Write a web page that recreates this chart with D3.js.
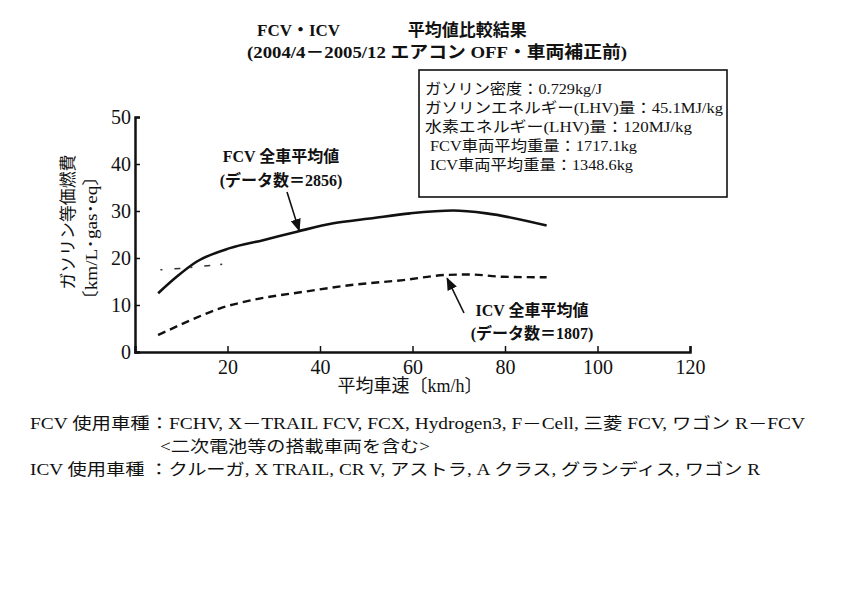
<!DOCTYPE html>
<html>
<head>
<meta charset="utf-8">
<script src="https://cdn.jsdelivr.net/npm/d3@7"></script>
<style>
  body { margin: 0; background: #fff; }
  text { font-family: "Liberation Serif", "Noto Sans CJK JP", serif; fill: #111; }
</style>
</head>
<body>
<div id="chart"></div>
<script>
// 平均車速 [km/h] と ガソリン等価燃費 [km/L]
const speedFCV = [5, 9, 13.3, 20.5, 27.7, 35, 42.9, 50.8, 59.5, 68.8, 76, 89];
const fuelFCV  = [12.5, 16.0, 19.2, 22.1, 23.8, 25.6, 27.4, 28.4, 29.5, 30.1, 29.5, 26.9];
const speedICV = [5, 11.2, 18.4, 25.6, 36.4, 47.2, 58, 67.4, 72.4, 79.6, 89];
const fuelICV  = [3.6, 6.4, 9.3, 11.1, 12.8, 14.3, 15.3, 16.4, 16.5, 16.0, 15.9];
// 原図に残っている短い点線
const speedStray = [5.5, 10, 15, 20];
const fuelStray  = [17.5, 17.8, 18.3, 18.8];

const xTicks = [20, 40, 60, 80, 100, 120];
const yTicks = [0, 10, 20, 30, 40, 50];

const titleLines = ["FCV・ICV　　　　平均値比較結果", "(2004/4－2005/12 エアコン OFF・車両補正前)"];
const infoLines = [
  "ガソリン密度：0.729kg/J",
  "ガソリンエネルギー(LHV)量：45.1MJ/kg",
  "水素エネルギー(LHV)量：120MJ/kg",
  "FCV車両平均重量：1717.1kg",
  "ICV車両平均重量：1348.6kg"
];
const yLabel = ["ガソリン等価燃費", "〔km/L･gas･eq〕"];
const xLabel = "平均車速〔km/h〕";
const fcvNote = ["FCV 全車平均値", "(データ数＝2856)"];
const icvNote = ["ICV 全車平均値", "(データ数＝1807)"];
const footLines = [
  "FCV 使用車種：FCHV, X－TRAIL FCV, FCX, Hydrogen3, F－Cell, 三菱 FCV, ワゴン R－FCV",
  "<二次電池等の搭載車両を含む>",
  "ICV 使用車種 ：クルーガ, X TRAIL, CR V, アストラ, A クラス, グランディス, ワゴン R"
];

const W = 861, H = 613;
const svg = d3.select("#chart").append("svg")
  .attr("width", W).attr("height", H);

svg.append("defs").append("marker")
  .attr("id", "arrow")
  .attr("viewBox", "0 0 10 10")
  .attr("refX", 9).attr("refY", 5)
  .attr("markerWidth", 8).attr("markerHeight", 8)
  .attr("orient", "auto")
  .append("path")
  .attr("d", "M0,1 L10,5 L0,9 Z")
  .attr("fill", "#111");

const x = d3.scaleLinear().domain([0, 120]).range([135, 690]);
const y = d3.scaleLinear().domain([0, 50]).range([352, 117]);

// タイトル
svg.append("text").attr("x", 257).attr("y", 36)
  .style("font-size", "17px").style("font-weight", "bold")
  .text(titleLines[0]);
svg.append("text").attr("x", 247).attr("y", 58)
  .attr("textLength", 380).attr("lengthAdjust", "spacingAndGlyphs")
  .style("font-size", "17px").style("font-weight", "bold")
  .text(titleLines[1]);

// 軸
const xAxis = d3.axisBottom(x).tickValues(xTicks).tickSize(-6).tickPadding(8);
const gx = svg.append("g").attr("transform", `translate(0,${y(0)})`).call(xAxis);
gx.select(".domain").attr("stroke", "#111").attr("stroke-width", 2.5);
gx.selectAll(".tick line").attr("stroke", "#111").attr("stroke-width", 1.5);
gx.selectAll(".tick text").style("font-size", "20px").style("font-family", "Liberation Serif").attr("fill", "#111");

const yAxis = d3.axisLeft(y).tickValues(yTicks).tickSize(-5).tickPadding(4);
const gy = svg.append("g").attr("transform", `translate(${x(0)},0)`).call(yAxis);
gy.select(".domain").attr("stroke", "#111").attr("stroke-width", 2.5);
gy.selectAll(".tick line").attr("stroke", "#111").attr("stroke-width", 1.5);
gy.selectAll(".tick text").style("font-size", "20px").style("font-family", "Liberation Serif").attr("fill", "#111");

// 軸ラベル
svg.append("text").attr("x", 410).attr("y", 392)
  .attr("text-anchor", "middle").style("font-size", "18px")
  .text(xLabel);
const yLabLen = [135, 143];
yLabel.forEach((t, i) => {
  svg.append("text")
    .attr("transform", `translate(${74 + i * 23},${222 + i * 16}) rotate(-90)`)
    .attr("text-anchor", "middle").style("font-size", "17px")
    .attr("textLength", yLabLen[i]).attr("lengthAdjust", "spacingAndGlyphs")
    .text(t);
});

// 線
const line = d3.line().x(d => x(d[0])).y(d => y(d[1])).curve(d3.curveMonotoneX);

svg.append("path")
  .datum(d3.zip(speedFCV, fuelFCV))
  .attr("d", line).attr("fill", "none")
  .attr("stroke", "#111").attr("stroke-width", 2.6);

svg.append("path")
  .datum(d3.zip(speedICV, fuelICV))
  .attr("d", line).attr("fill", "none")
  .attr("stroke", "#111").attr("stroke-width", 2.4)
  .attr("stroke-dasharray", "8,5");

svg.append("path")
  .datum(d3.zip(speedStray, fuelStray))
  .attr("d", line).attr("fill", "none")
  .attr("stroke", "#333").attr("stroke-width", 1.5)
  .attr("stroke-dasharray", "2,12,6,10");

// 注記
fcvNote.forEach((t, i) => {
  svg.append("text").attr("x", 281).attr("y", 162 + i * 24)
    .attr("text-anchor", "middle").style("font-size", "16px").style("font-weight", "bold")
    .text(t);
});
svg.append("line")
  .attr("x1", 287).attr("y1", 192).attr("x2", x(35.5)).attr("y2", y(25.4) - 2)
  .attr("stroke", "#111").attr("stroke-width", 1.6)
  .attr("marker-end", "url(#arrow)");

icvNote.forEach((t, i) => {
  svg.append("text").attr("x", 532).attr("y", 316 + i * 23)
    .attr("text-anchor", "middle").style("font-size", "16px").style("font-weight", "bold")
    .text(t);
});
svg.append("line")
  .attr("x1", 464).attr("y1", 313).attr("x2", x(67.5)).attr("y2", y(16.3) + 3)
  .attr("stroke", "#111").attr("stroke-width", 1.6)
  .attr("marker-end", "url(#arrow)");

// 条件の枠
svg.append("rect")
  .attr("x", 419).attr("y", 70).attr("width", 308).attr("height", 127)
  .attr("fill", "#fff").attr("stroke", "#111").attr("stroke-width", 1.6);
const infoX = [425, 425, 425, 430, 430];
const infoLen = [177, 298, 267, 207, 203];
infoLines.forEach((t, i) => {
  svg.append("text").attr("x", infoX[i]).attr("y", 94 + i * 19)
    .attr("textLength", infoLen[i]).attr("lengthAdjust", "spacingAndGlyphs")
    .style("font-size", "15px")
    .text(t);
});

// 使用車種
const footX = [30, 160, 30];
const footLen = [775, 270, 730];
footLines.forEach((t, i) => {
  svg.append("text").attr("x", footX[i]).attr("y", 429 + i * 23)
    .attr("textLength", footLen[i]).attr("lengthAdjust", "spacingAndGlyphs")
    .style("font-size", "16px")
    .text(t);
});
</script>
</body>
</html>
